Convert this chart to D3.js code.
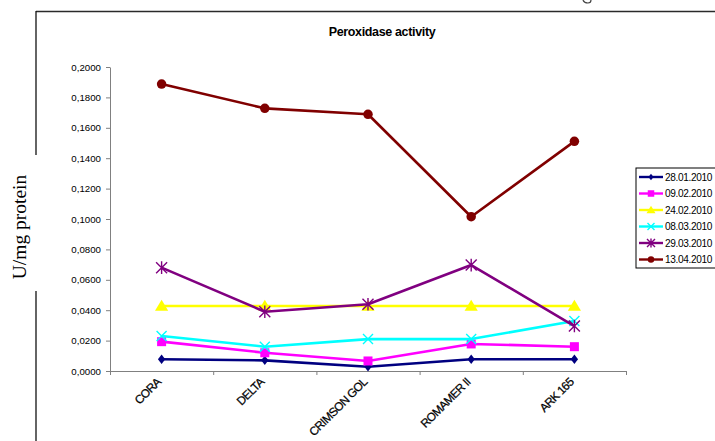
<!DOCTYPE html>
<html>
<head>
<meta charset="utf-8">
<script src="https://cdn.jsdelivr.net/npm/d3@7"></script>
<style>
  html, body { margin: 0; padding: 0; background: #fff; }
  svg { display: block; }
</style>
</head>
<body>
<svg id="chart" width="715" height="441"></svg>
<script>
const categories = ["CORA", "DELTA", "CRIMSON GOL", "ROMAMER II", "ARK 165"];
const seriesNames = ["28.01.2010", "09.02.2010", "24.02.2010", "08.03.2010", "29.03.2010", "13.04.2010"];
const s280110 = [0.0077, 0.0070, 0.0028, 0.0077, 0.0077];
const s090210 = [0.0193, 0.0120, 0.0066, 0.0178, 0.0160];
const s240210 = [0.0428, 0.0428, 0.0428, 0.0428, 0.0428];
const s080310 = [0.0230, 0.0160, 0.0210, 0.0210, 0.0329];
const s290310 = [0.0680, 0.0390, 0.0439, 0.0697, 0.0296];
const s130410 = [0.1888, 0.1728, 0.1689, 0.1015, 0.1511];
const yTicks = [0, 0.02, 0.04, 0.06, 0.08, 0.10, 0.12, 0.14, 0.16, 0.18, 0.20];

const seriesValues = [s280110, s090210, s240210, s080310, s290310, s130410];
const colors = ["#000080", "#FF00FF", "#FFFF00", "#00FFFF", "#800080", "#800000"];
const markers = ["diamond", "square", "triangle", "x", "asterisk", "circle"];

const svg = d3.select("#chart");
const sans = "Liberation Sans, Arial, sans-serif";

// outer frame
svg.append("line").attr("x1", 36).attr("x2", 715).attr("y1", 11.5).attr("y2", 11.5)
  .attr("stroke", "#2a2a2a").attr("stroke-width", 1.6);
svg.append("line").attr("x1", 36).attr("x2", 36).attr("y1", 11).attr("y2", 441)
  .attr("stroke", "#111").attr("stroke-width", 1.3);

// stray descender mark from the page above
svg.append("path").attr("d", "M583,0 Q584,3 588,3 Q591,3 591,0")
  .attr("fill", "none").attr("stroke", "#444").attr("stroke-width", 1.2);

const x = d3.scaleBand().domain(categories).range([110, 626]);
const xb = d3.scaleLinear().domain([0, categories.length]).range([110, 626]);
const y = d3.scaleLinear().domain([0, 0.2]).range([371, 67]);

// title
svg.append("text").attr("x", 382).attr("y", 36).attr("text-anchor", "middle")
  .attr("font-family", sans).attr("font-weight", "bold")
  .attr("font-size", 12.5).attr("letter-spacing", -0.35).text("Peroxidase activity");

// Y axis
const yAxis = svg.append("g").attr("transform", "translate(110,0)")
  .call(d3.axisLeft(y).tickValues(yTicks).tickSize(4).tickSizeOuter(0).tickPadding(5)
    .tickFormat(d => d.toFixed(4).replace(".", ",")));
yAxis.select(".domain").attr("stroke", "#808080");
yAxis.selectAll(".tick line").attr("stroke", "#808080");
yAxis.selectAll(".tick text").attr("font-family", sans)
  .attr("font-size", 9.7).attr("fill", "#000");

// X axis
const xAxis = svg.append("g").attr("transform", "translate(0,371)")
  .call(d3.axisBottom(xb).tickValues(d3.range(categories.length + 1)).tickSize(4)
    .tickSizeOuter(0).tickFormat(""));
xAxis.select(".domain").attr("stroke", "#808080");
xAxis.selectAll(".tick line").attr("stroke", "#808080");

svg.append("g").selectAll("text").data(categories).join("text")
  .attr("transform", d => `translate(${x(d) + x.bandwidth() / 2 - 3},380) rotate(-45)`)
  .attr("text-anchor", "end").attr("dy", "0.35em")
  .attr("font-family", sans).attr("font-size", 11.8)
  .attr("letter-spacing", -0.7).attr("fill", "#000")
  .attr("stroke", "#000").attr("stroke-width", 0.25).text(d => d);

// marker drawing
function drawMarker(g, type, color, s) {
  if (type === "diamond") {
    g.append("path").attr("d", d3.symbol(d3.symbolDiamond, s * s * 0.55)())
      .attr("fill", color).attr("transform", "scale(1.15,0.85)");
  } else if (type === "square") {
    g.append("rect").attr("x", -s / 2).attr("y", -s / 2).attr("width", s).attr("height", s).attr("fill", color);
  } else if (type === "triangle") {
    const h = s * 0.95;
    g.append("path").attr("d", `M0,${-h * 0.6}L${s * 0.6},${h * 0.45}L${-s * 0.6},${h * 0.45}Z`).attr("fill", color);
  } else if (type === "x") {
    const r = s / 2;
    g.append("path").attr("d", `M${-r},${-r}L${r},${r}M${-r},${r}L${r},${-r}`)
      .attr("stroke", color).attr("stroke-width", 1.4);
  } else if (type === "asterisk") {
    const r = s / 2;
    g.append("path").attr("d", `M${-r},${-r}L${r},${r}M${-r},${r}L${r},${-r}M0,${-r * 1.15}L0,${r * 1.15}`)
      .attr("stroke", color).attr("stroke-width", 1.4);
  } else if (type === "circle") {
    g.append("circle").attr("r", s / 2).attr("fill", color);
  }
}

const line = d3.line().x((d, i) => x(categories[i]) + x.bandwidth() / 2).y(d => y(d));
const markerSizes = [8, 9, 11, 10, 11, 9.5];

seriesValues.forEach((vals, si) => {
  const g = svg.append("g");
  g.append("path").datum(vals).attr("d", line).attr("fill", "none")
    .attr("stroke", colors[si]).attr("stroke-width", 2.6).attr("stroke-linejoin", "round");
  vals.forEach((v, i) => {
    const mg = g.append("g").attr("transform", `translate(${x(categories[i]) + x.bandwidth() / 2},${y(v)})`);
    drawMarker(mg, markers[si], colors[si], markerSizes[si]);
  });
});

// legend
const legend = svg.append("g");
legend.append("rect").attr("x", 636).attr("y", 168).attr("width", 100).attr("height", 100)
  .attr("fill", "#fff").attr("stroke", "#000").attr("stroke-width", 1);
seriesNames.forEach((name, i) => {
  const ly = 177 + i * 16.5;
  legend.append("line").attr("x1", 639).attr("x2", 663).attr("y1", ly).attr("y2", ly)
    .attr("stroke", colors[i]).attr("stroke-width", 2.4);
  const mg = legend.append("g").attr("transform", `translate(651,${ly})`);
  drawMarker(mg, markers[i], colors[i], [5.5, 6.5, 7.5, 7, 8, 6.5][i]);
  legend.append("text").attr("x", 665).attr("y", ly).attr("dy", "0.35em")
    .attr("font-family", sans).attr("font-size", 10.1)
    .attr("letter-spacing", -0.35).attr("fill", "#000").text(name);
});

// remnants of the original small axis title (partially hidden)
svg.append("defs").append("clipPath").attr("id", "tinyClip")
  .append("rect").attr("x", 45).attr("y", 186).attr("width", 20).attr("height", 22);
svg.append("text").attr("clip-path", "url(#tinyClip)")
  .attr("transform", "translate(59,214) rotate(-90)").attr("text-anchor", "middle")
  .attr("font-family", sans).attr("font-weight", "bold")
  .attr("font-size", 7).attr("fill", "#000").text("U/mg protein");

// pasted Y label with white background
svg.append("rect").attr("x", 0).attr("y", 155).attr("width", 40).attr("height", 136).attr("fill", "#fff");
svg.append("text").attr("transform", "translate(26,227) rotate(-90)").attr("text-anchor", "middle")
  .attr("font-family", "Liberation Serif, Times New Roman, serif").attr("font-size", 19.5)
  .attr("fill", "#000").text("U/mg protein");
</script>
</body>
</html>
